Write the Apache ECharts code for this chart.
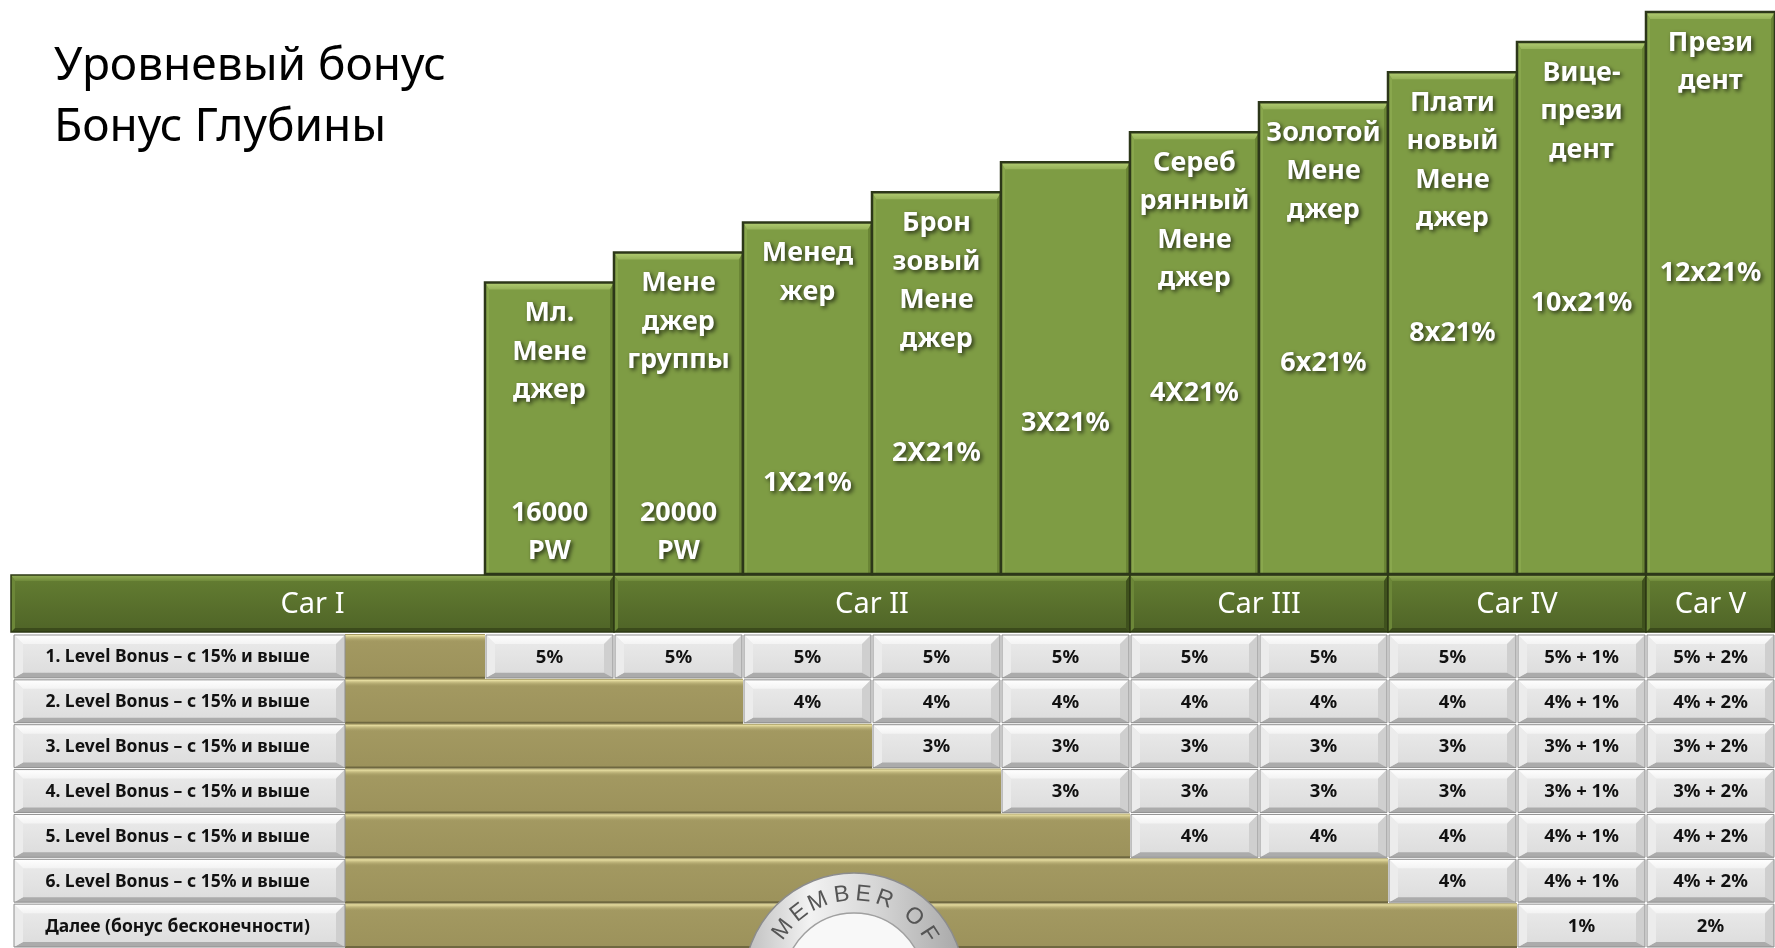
<!DOCTYPE html>
<html>
<head>
<meta charset="utf-8">
<script src="https://cdn.jsdelivr.net/npm/echarts@6/dist/echarts.min.js"></script>
<style>
html, body { margin: 0; padding: 0; background: #fff; }
#chart { width: 1775px; height: 948px; }
</style>
</head>
<body>
<div id="chart"></div>
<script>
// уровни (столбцы лестницы)
var levels = ['Мл. Менеджер', 'Менеджер группы', 'Менеджер', 'Бронзовый Менеджер', '3X21%',
  'Серебряный Менеджер', 'Золотой Менеджер', 'Платиновый Менеджер', 'Вице-президент', 'Президент'];
var levelNames = ['Мл.\nМене\nджер', 'Мене\nджер\nгруппы', 'Менед\nжер', 'Брон\nзовый\nМене\nджер', '',
  'Сереб\nрянный\nМене\nджер', 'Золотой\nМене\nджер', 'Плати\nновый\nМене\nджер', 'Вице-\nпрези\nдент', 'Прези\nдент'];
var levelValues = ['16000\nPW', '20000\nPW', '1X21%', '2X21%', '3X21%', '4X21%', '6x21%', '8x21%', '10x21%', '12x21%'];
var levelHeights = [97, 107, 117, 127, 137, 147, 157, 167, 177, 187];

// машины
var cars = ['Car I', 'Car II', 'Car III', 'Car IV', 'Car V'];
var carFrom = [0, 1, 5, 7, 9];
var carTo = [0, 4, 6, 8, 9];

// таблица бонусов
var rowLabels = [
  '1. Level Bonus – с 15% и выше',
  '2. Level Bonus – с 15% и выше',
  '3. Level Bonus – с 15% и выше',
  '4. Level Bonus – с 15% и выше',
  '5. Level Bonus – с 15% и выше',
  '6. Level Bonus – с 15% и выше',
  'Далее (бонус бесконечности)'
];
var row1 = ['5%', '5%', '5%', '5%', '5%', '5%', '5%', '5%', '5% + 1%', '5% + 2%'];
var row2 = [null, null, '4%', '4%', '4%', '4%', '4%', '4%', '4% + 1%', '4% + 2%'];
var row3 = [null, null, null, '3%', '3%', '3%', '3%', '3%', '3% + 1%', '3% + 2%'];
var row4 = [null, null, null, null, '3%', '3%', '3%', '3%', '3% + 1%', '3% + 2%'];
var row5 = [null, null, null, null, null, '4%', '4%', '4%', '4% + 1%', '4% + 2%'];
var row6 = [null, null, null, null, null, null, null, '4%', '4% + 1%', '4% + 2%'];
var row7 = [null, null, null, null, null, null, null, null, '1%', '2%'];
var rows = [row1, row2, row3, row4, row5, row6, row7];

var FONT = "'Noto Sans', 'Open Sans', sans-serif";
var HEAD_LEFT = 11, LABEL_LEFT = 14, LABEL_RIGHT = 345;

function lin(c1, c2) {
  return new echarts.graphic.LinearGradient(0, 0, 0, 1, [{ offset: 0, color: c1 }, { offset: 1, color: c2 }]);
}

// коробка с фаской: t = [верх, право, низ, лево]
function bevel(x, y, w, h, t, c) {
  var tt = t[0], tr = t[1], tb = t[2], tl = t[3];
  return [
    { type: 'rect', shape: { x: x, y: y, width: w, height: h }, style: { fill: c.face } },
    { type: 'polygon', shape: { points: [[x, y], [x + w, y], [x + w - tr, y + tt], [x + tl, y + tt]] }, style: { fill: c.top } },
    { type: 'polygon', shape: { points: [[x + w, y], [x + w, y + h], [x + w - tr, y + h - tb], [x + w - tr, y + tt]] }, style: { fill: c.right } },
    { type: 'polygon', shape: { points: [[x, y + h], [x + w, y + h], [x + w - tr, y + h - tb], [x + tl, y + h - tb]] }, style: { fill: c.bottom } },
    { type: 'polygon', shape: { points: [[x, y], [x + tl, y + tt], [x + tl, y + h - tb], [x, y + h]] }, style: { fill: c.left } },
    { type: 'rect', shape: { x: x, y: y, width: w, height: h }, style: { fill: 'none', stroke: c.stroke, lineWidth: c.lw || 1 } }
  ];
}

var grayBox = { face: lin('#ebebeb', '#dcdcdc'), top: lin('#ffffff', '#f3f3f3'), right: '#cfcfcf', bottom: '#ababab', left: '#ececec', stroke: '#8f8f8f' };
var barBox = { face: '#7e9c44', top: lin('#b3cd73', '#95b258'), right: '#6a8535', bottom: '#7e9c44', left: '#89a74d', stroke: '#2c3719', lw: 2.5 };
var headBox = { face: lin('#647e32', '#4f6427'), top: lin('#93ad58', '#6f8a3a'), right: '#3f511d', bottom: '#3b4b1b', left: '#6c8738', stroke: '#2d3915', lw: 1.5 };

var txtShadow = { textShadowColor: 'rgba(0,0,0,0.7)', textShadowBlur: 4, textShadowOffsetX: 2, textShadowOffsetY: 2 };

var cellData = [], cellTexts = [];
rows.forEach(function (r, ri) {
  r.forEach(function (v, ci) {
    if (v !== null) { cellData.push([ci, ri]); cellTexts.push(v); }
  });
});
var rowData = rows.map(function (r, ri) {
  var first = 0;
  while (r[first] === null) first++;
  return [first, ri];
});

// кольцо MEMBER OF
var ringCx = 854, ringCy = 983;
var ringLetters = ['M', 'E', 'M', 'B', 'E', 'R', 'O', 'F'];
var ringAngles = [143, 128, 114, 98, 84, 70, 48, 33];
var ringGraphic = [
  { type: 'circle', z: 100, shape: { cx: ringCx, cy: ringCy, r: 110 },
    style: { fill: new echarts.graphic.LinearGradient(0, 0, 1, 0, [{ offset: 0, color: '#bdbdbd' }, { offset: 0.3, color: '#f2f2f2' }, { offset: 0.6, color: '#d6d6d6' }, { offset: 1, color: '#a6a6a6' }]), stroke: '#8c8c8c', lineWidth: 1.5 } },
  { type: 'circle', z: 101, shape: { cx: ringCx, cy: ringCy, r: 70 }, style: { fill: '#f8f8f8', stroke: '#a0a0a0', lineWidth: 1.5 } }
];
ringLetters.forEach(function (ch, i) {
  var a = ringAngles[i] * Math.PI / 180;
  ringGraphic.push({
    type: 'text', z: 102,
    x: ringCx + 89 * Math.cos(a), y: ringCy - 89 * Math.sin(a),
    rotation: (ringAngles[i] - 90) * Math.PI / 180,
    style: { text: ch, font: '23px "Liberation Sans", Arial, sans-serif', fill: '#555', align: 'center', verticalAlign: 'middle' }
  });
});

var chart = echarts.init(document.getElementById('chart'));
chart.setOption({
  animation: false,
  graphic: [
    { type: 'text', left: 54, top: 36, style: { text: 'Уровневый бонус\nБонус Глубины', font: '46px ' + FONT, fill: '#000', lineHeight: 61 } }
  ].concat(ringGraphic),
  grid: [
    { left: 485, right: 0, top: 0, height: 574 },
    { left: 485, right: 0, top: 575, height: 57 },
    { left: 485, right: 0, top: 634, height: 314 }
  ],
  xAxis: [
    { type: 'category', data: levels, gridIndex: 0, show: false },
    { type: 'category', data: levels, gridIndex: 1, show: false },
    { type: 'category', data: levels, gridIndex: 2, show: false }
  ],
  yAxis: [
    { type: 'value', gridIndex: 0, min: 0, max: 191, show: false },
    { type: 'value', gridIndex: 1, min: 0, max: 1, show: false },
    { type: 'category', data: rowLabels, gridIndex: 2, inverse: true, show: false }
  ],
  series: [
    {
      // подписи строк и оливковая подложка
      type: 'custom', xAxisIndex: 2, yAxisIndex: 2, data: rowData, clip: false,
      renderItem: function (params, api) {
        var c = api.coord([api.value(0), api.value(1)]);
        var s = api.size([1, 1]);
        var y0 = c[1] - s[1] / 2, h = s[1];
        var oliveRight = c[0] - s[0] / 2;
        var ch = [
          { type: 'rect', shape: { x: LABEL_RIGHT, y: y0, width: oliveRight - LABEL_RIGHT, height: h }, style: { fill: lin('#a49a62', '#9c925b') } },
          { type: 'rect', shape: { x: LABEL_RIGHT, y: y0 + 1, width: oliveRight - LABEL_RIGHT, height: 7 }, style: { fill: lin('#f2e9ac', 'rgba(164,154,98,0)') } },
          { type: 'rect', shape: { x: LABEL_RIGHT, y: y0 + h - 2, width: oliveRight - LABEL_RIGHT, height: 2 }, style: { fill: '#6f6840' } }
        ];
        ch = ch.concat(bevel(LABEL_LEFT, y0 + 1, LABEL_RIGHT - LABEL_LEFT, h - 2, [9, 9, 5, 9], grayBox));
        ch.push({ type: 'text', style: { text: rowLabels[params.dataIndex], x: (LABEL_LEFT + LABEL_RIGHT) / 2 - 2, y: c[1] + 1, align: 'center', verticalAlign: 'middle', font: 'bold 17.5px ' + FONT, fill: '#111' } });
        return { type: 'group', children: ch };
      }
    },
    {
      // ячейки бонусов
      type: 'custom', xAxisIndex: 2, yAxisIndex: 2, data: cellData,
      renderItem: function (params, api) {
        var c = api.coord([api.value(0), api.value(1)]);
        var s = api.size([1, 1]);
        var x0 = c[0] - s[0] / 2, y0 = c[1] - s[1] / 2;
        var ch = bevel(x0 + 1, y0 + 1, s[0] - 2, s[1] - 2, [9, 9, 5, 9], grayBox);
        ch.push({ type: 'text', style: { text: cellTexts[params.dataIndex], x: c[0], y: c[1] + 1, align: 'center', verticalAlign: 'middle', font: 'bold 18.5px ' + FONT, fill: '#111' } });
        return { type: 'group', children: ch };
      }
    },
    {
      // полоса Car I..V
      type: 'custom', xAxisIndex: 1, yAxisIndex: 1, clip: false,
      data: cars.map(function (c, i) { return [carFrom[i], carTo[i]]; }),
      encode: { x: [0, 1] },
      renderItem: function (params, api) {
        var bw = api.size([1, 0])[0];
        var a = api.coord([api.value(0), 1]);
        var b = api.coord([api.value(1), 0]);
        var x0 = api.value(0) === 0 ? HEAD_LEFT : a[0] - bw / 2;
        var x1 = b[0] + bw / 2;
        var ch = bevel(x0, a[1], x1 - x0, b[1] - a[1], [6, 4, 4, 4], headBox);
        ch.push({ type: 'text', style: { text: cars[params.dataIndex], x: (x0 + x1) / 2, y: (a[1] + b[1]) / 2 + 1, align: 'center', verticalAlign: 'middle', font: '29px ' + FONT, fill: '#fff' } });
        return { type: 'group', children: ch };
      }
    },
    {
      // ступени
      type: 'custom', xAxisIndex: 0, yAxisIndex: 0, clip: false,
      data: levelHeights.map(function (h, i) { return [i, h]; }),
      renderItem: function (params, api) {
        var i = params.dataIndex;
        var top = api.coord([api.value(0), api.value(1)]);
        var base = api.coord([api.value(0), 0]);
        var bw = api.size([1, 0])[0];
        var x0 = top[0] - bw / 2, y0 = top[1], h = base[1] - top[1];
        var ch = bevel(x0, y0, bw, h, [7, 4, 0, 4], barBox);
        var lh = 38.5;
        ch.push({ type: 'text', style: Object.assign({ text: levelNames[i], x: top[0], y: y0 + 31 - lh / 2, align: 'center', verticalAlign: 'top', lineHeight: lh, font: 'bold 27px ' + FONT, fill: '#fff' }, txtShadow) });
        var vy = Math.min(y0 + 261, base[1] - 61);
        ch.push({ type: 'text', style: Object.assign({ text: levelValues[i], x: top[0], y: vy - lh / 2, align: 'center', verticalAlign: 'top', lineHeight: lh, font: 'bold 27px ' + FONT, fill: '#fff' }, txtShadow) });
        return { type: 'group', children: ch };
      }
    }
  ]
});
</script>
</body>
</html>
